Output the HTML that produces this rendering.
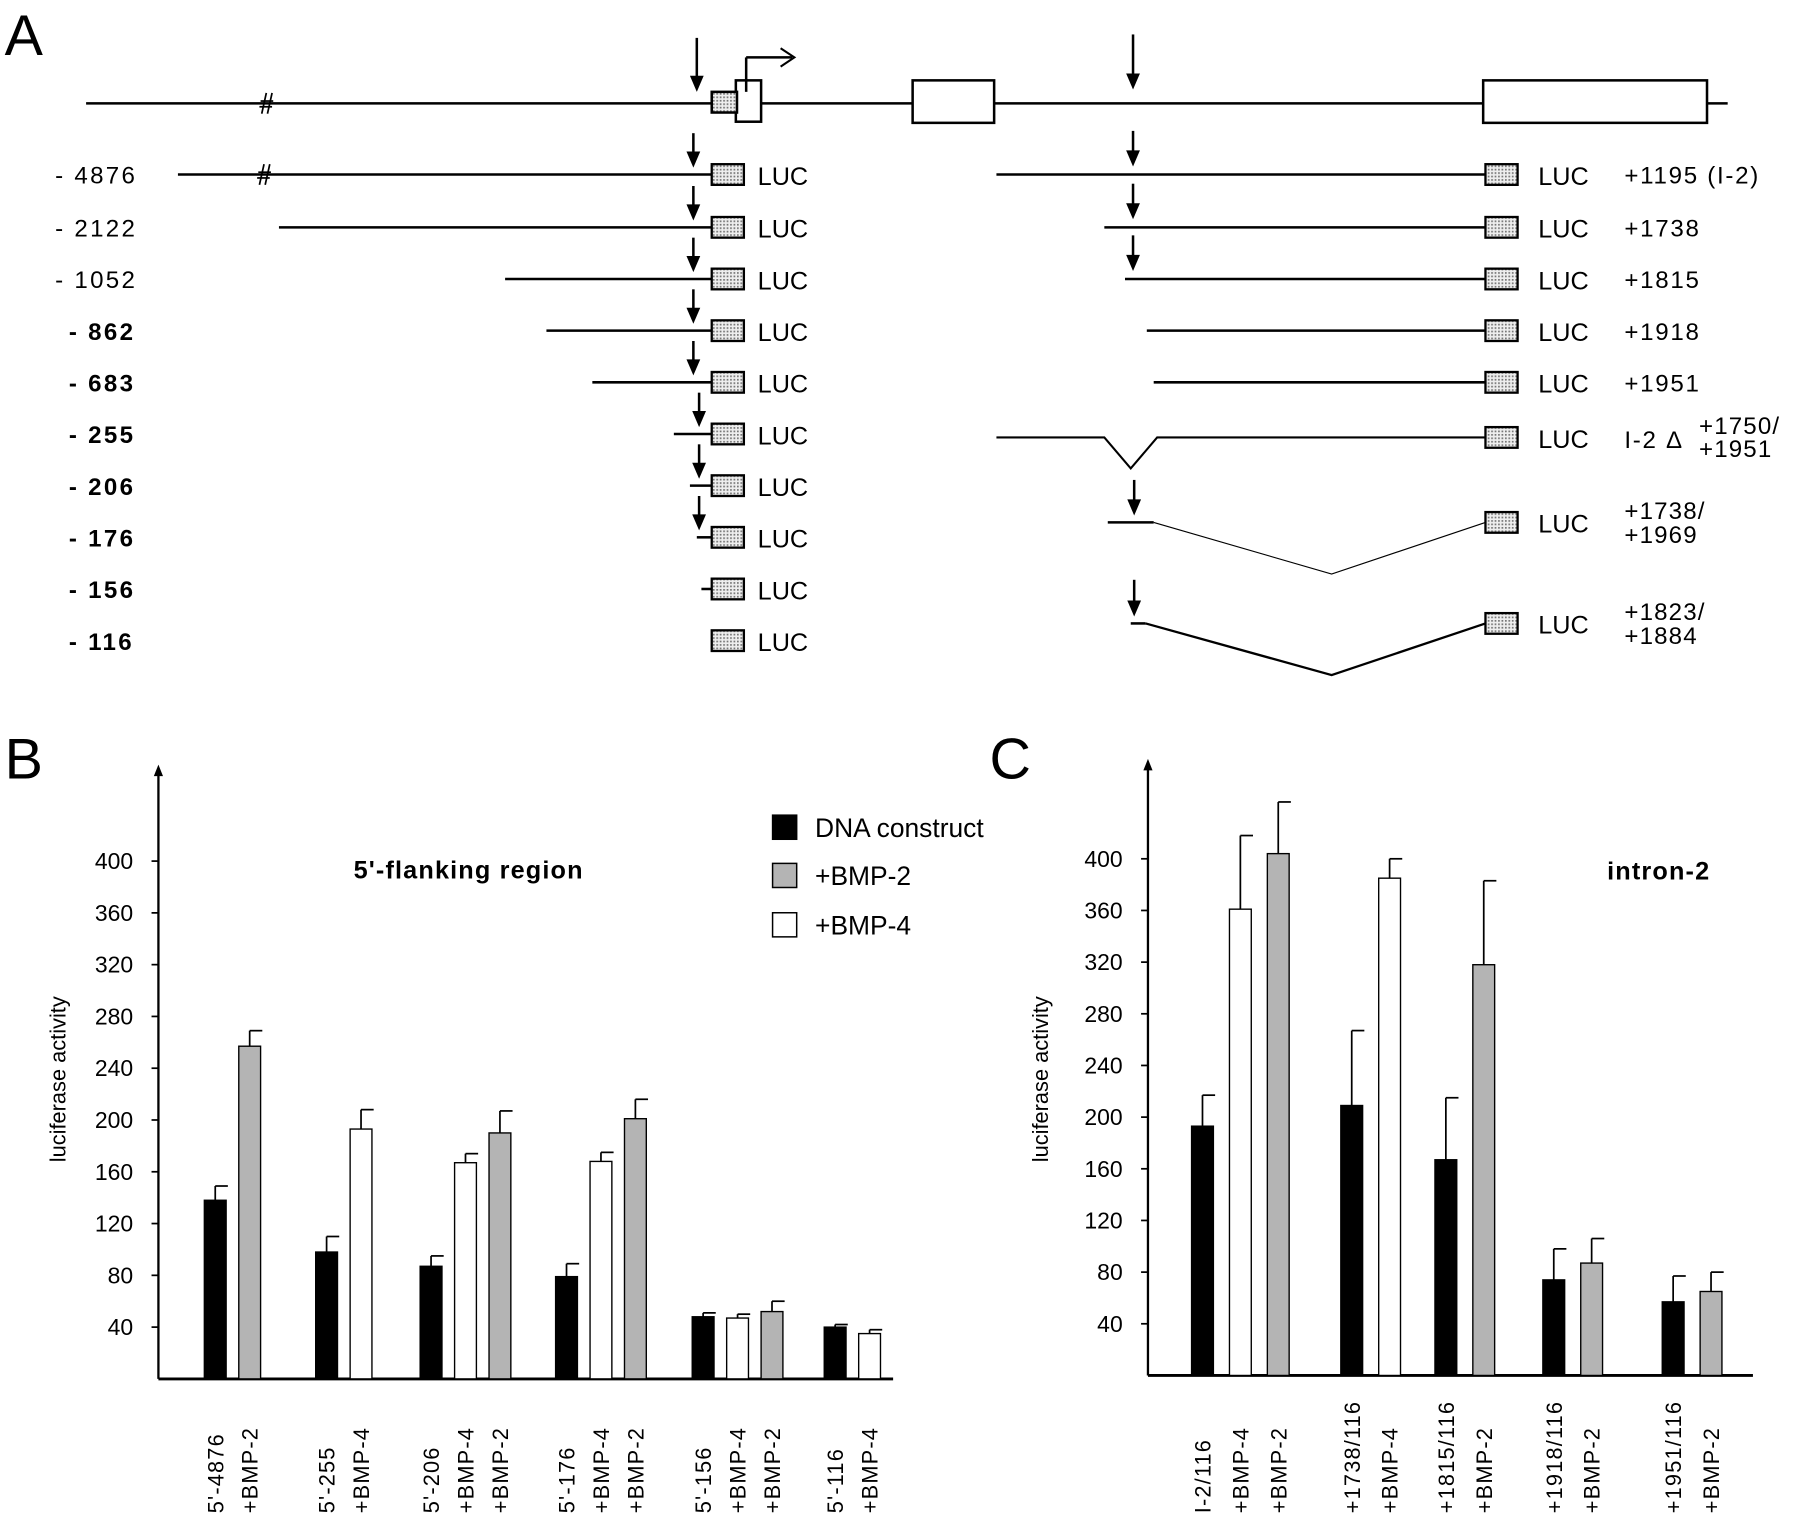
<!DOCTYPE html>
<html><head><meta charset="utf-8"><style>
html,body{margin:0;padding:0;background:#fff}
svg{display:block}
text{font-family:"Liberation Sans",sans-serif;fill:#000}
</style></head><body>
<svg id="fig" width="1800" height="1527" viewBox="0 0 1568 1330" preserveAspectRatio="none" xmlns="http://www.w3.org/2000/svg">
<defs><pattern id="dots" width="3" height="3" patternUnits="userSpaceOnUse"><rect width="3" height="3" fill="#eee"/><rect width="1.5" height="1.5" fill="#777"/></pattern></defs>
<g id="panelA" stroke="#000" stroke-width="2.2" fill="none"></g>
<g id="panelB"></g>
<g id="panelC"></g>
</svg>
<script>
// Panel B data
const bCats = ["5'-4876","5'-255","5'-206","5'-176","5'-156","5'-116"];
const bBlack = [138,98,87,79,48,40];
const bBlackErr = [149,110,95,89,51,42];
const bWhite = [null,193,167,168,47,35];
const bWhiteErr = [null,208,174,175,50,38];
const bGray = [257,null,190,201,52,null];
const bGrayErr = [269,null,207,216,60,null];
// Panel C data
const cCats = ["I-2/116","+1738/116","+1815/116","+1918/116","+1951/116"];
const cBlack = [193,209,167,74,57];
const cBlackErr = [217,267,215,98,77];
const cWhite = [361,385,null,null,null];
const cWhiteErr = [418,400,null,null,null];
const cGray = [404,null,318,87,65];
const cGrayErr = [444,null,383,106,80];
const yTicks = [40,80,120,160,200,240,280,320,360,400];

const NS="http://www.w3.org/2000/svg";
function mk(parent,tag,attrs,txt){const e=document.createElementNS(NS,tag);for(const k in attrs)e.setAttribute(k,attrs[k]);if(txt!==undefined)e.textContent=txt;parent.appendChild(e);return e;}

// ---------- Panel A ----------
const A=document.getElementById('panelA');
const svg=document.getElementById('fig');
let t=mk(svg,'text',{x:4,y:48,'font-size':50,'font-family':'Liberation Sans'},'A');


function line(x1,y1,x2,y2,w){const l=mk(A,'line',{x1,y1,x2,y2});if(w)l.setAttribute('stroke-width',w);return l;}
function arrow(x,y1,y2){line(x,y1,x,y2-10);mk(A,'polygon',{points:`${x-6},${y2-14} ${x+6},${y2-14} ${x},${y2}`,fill:'#000',stroke:'none'});}
function hash(x,y){line(x-3,y+9,x+1,y-9,1.5);line(x+2,y+9,x+6,y-9,1.5);line(x-4,y-2,x+7,y-2,1.5);line(x-5,y+3,x+6,y+3,1.5);}
function lucBox(x,y){const r=mk(A,'rect',{x:x,y:y-9,width:28,height:18,fill:'url(#dots)','stroke-width':2});}
// top gene map
line(75,90,1505,90);hash(231,90);
arrow(607,33,80);
mk(A,'rect',{x:641,y:70,width:22,height:36,fill:'#fff'});
mk(A,'rect',{x:620,y:80,width:22,height:18,fill:'url(#dots)'});
line(650,80,650,50);line(650,50,690,50);
mk(A,'polyline',{points:'680,42 692,50 680,58','stroke-width':1.8});
mk(A,'rect',{x:795,y:70,width:71,height:37,fill:'#fff'});
arrow(987,30,78);
mk(A,'rect',{x:1292,y:70,width:195,height:37,fill:'#fff'});
// rows
const rowY=[152,198,243,288,333,378,423,468,513,558];
const rowLbl=["- 4876","- 2122","- 1052","- 862","- 683","- 255","- 206","- 176","- 156","- 116"];
const leftStart=[155,243,440,476,516,587,601,607,611,null];
const rowArrowL=[1,1,1,1,1,1,1,1,0,0];
rowY.forEach((y,i)=>{
  const tx=mk(svg,'text',{x:i<3?48:60,y:y+8,'font-size':21,'letter-spacing':2,'font-weight':i>=3?'bold':'normal'},rowLbl[i]);
  
  
  if(leftStart[i]!==null)line(leftStart[i],y,620,y);
  if(i===0)hash(229,y);
  if(rowArrowL[i])arrow(i>=5?609:604,y-36,y-6);
  lucBox(620,y);
  mk(svg,'text',{x:660,y:y+9,'font-size':22},'LUC');
});
// right constructs
const rR=[152,198,243,288,333];
const rStart=[868,962,980,999,1005];
const rLbl=["+1195 (I-2)","+1738","+1815","+1918","+1951"];
rR.forEach((y,i)=>{line(rStart[i],y,1294,y);if(i<3)arrow(987,y-38,y-7);lucBox(1294,y);
  mk(svg,'text',{x:1340,y:y+9,'font-size':22},'LUC');
  const tx=mk(svg,'text',{x:1415,y:y+8,'font-size':21,'letter-spacing':1.5},rLbl[i]);
  
  });
mk(A,'polyline',{points:'868,381 962,381 985,408 1008,381 1294,381','stroke-width':1.8});
lucBox(1294,381);mk(svg,'text',{x:1340,y:390,'font-size':22},'LUC');
mk(svg,'text',{x:1415,y:390,'font-size':21,'letter-spacing':1.5},'I-2 Δ');
mk(svg,'text',{x:1480,y:378,'font-size':21,'letter-spacing':1},'+1750/');
mk(svg,'text',{x:1480,y:398,'font-size':21,'letter-spacing':1},'+1951');
line(965,455,1005,455);mk(A,'polyline',{points:'1005,455 1160,500 1294,455','stroke-width':1});
arrow(988,418,449);lucBox(1294,455);mk(svg,'text',{x:1340,y:464,'font-size':22},'LUC');
mk(svg,'text',{x:1415,y:452,'font-size':21,'letter-spacing':1},'+1738/');
mk(svg,'text',{x:1415,y:473,'font-size':21,'letter-spacing':1},'+1969');
line(985,543,998,543);mk(A,'polyline',{points:'998,543 1160,588 1294,543','stroke-width':2});
arrow(988,505,537);lucBox(1294,543);mk(svg,'text',{x:1340,y:552,'font-size':22},'LUC');
mk(svg,'text',{x:1415,y:540,'font-size':21,'letter-spacing':1},'+1823/');
mk(svg,'text',{x:1415,y:561,'font-size':21,'letter-spacing':1},'+1884');

// ---------- Charts ----------
function chart(gid,o){
  const G=document.getElementById(gid);
  const y=v=>o.base-(v/40)*o.step;
  const L=mk(G,'text',{x:o.lx,y:o.ly,'font-size':50},o.letter);
  
  
  mk(G,'line',{x1:o.ax,y1:o.base,x2:o.ax,y2:o.top+8,stroke:'#000','stroke-width':2});
  mk(G,'polygon',{points:`${o.ax-4},${o.top+10} ${o.ax+4},${o.top+10} ${o.ax},${o.top}`,fill:'#000'});
  const xa=mk(G,'line',{x1:o.ax,y1:o.base,x2:o.xend,y2:o.base,stroke:'#000','stroke-width':2.5});
  
  
  yTicks.forEach(v=>{
    mk(G,'line',{x1:o.ax-6,y1:y(v),x2:o.ax,y2:y(v),stroke:'#000','stroke-width':1.5});
    const tt=mk(G,'text',{x:o.ax-22,y:y(v)+7,'font-size':20,'text-anchor':'end'},v);
    
    
  });
  const yt=mk(G,'text',{x:0,y:0,'font-size':19,'text-anchor':'middle',transform:`translate(${o.ytx},${o.yty}) rotate(-90)`},'luciferase activity');
  
  
  const ti=mk(G,'text',{x:o.tx,y:o.ty,'font-size':22,'font-weight':'bold','letter-spacing':1},o.title);
  
  
  const bw=19;
  o.cats.forEach((c,i)=>{
    let x=o.gx[i];
    const series=[[o.black,o.blackErr,'#000','DNA construct',c],...o.order.map(s=>s==='w'?[o.white,o.whiteErr,'#fff','+BMP-4','+BMP-4']:[o.gray,o.grayErr,'#b4b4b4','+BMP-2','+BMP-2'])];
    series.forEach(([vals,errs,col,nm,lbl])=>{
      if(vals[i]===null)return;
      const ex=x+bw/2;
      mk(G,'line',{x1:ex,y1:y(vals[i]),x2:ex,y2:y(errs[i]),stroke:'#000','stroke-width':1.5});
      mk(G,'line',{x1:ex,y1:y(errs[i]),x2:ex+11,y2:y(errs[i]),stroke:'#000','stroke-width':1.5});
      const r=mk(G,'rect',{x:x,y:y(vals[i]),width:bw,height:o.base-y(vals[i]),fill:col,stroke:'#000','stroke-width':1.2});
      
      
      const xl=mk(G,'text',{x:0,y:0,'font-size':19,'letter-spacing':1,transform:`translate(${ex+7},${o.lblY}) rotate(-90)`},lbl);
      
      
      x+=o.gap;
    });
  });
}
chart('panelB',{letter:'B',lx:4,ly:678,ax:138,top:666,base:1201,step:45.1,xend:778,ytx:57,yty:940,
  tx:308,ty:765,title:"5'-flanking region",lblY:1318,cats:bCats,gx:[178,275,366,484,603,718],gap:30,
  black:bBlack,blackErr:bBlackErr,white:bWhite,whiteErr:bWhiteErr,gray:bGray,grayErr:bGrayErr,order:['w','g']});
chart('panelC',{letter:'C',lx:862,ly:678,ax:1000,top:661,base:1198,step:45,xend:1527,ytx:913,yty:940,
  tx:1400,ty:766,title:"intron-2",lblY:1318,cats:cCats,gx:[1038,1168,1250,1344,1448],gap:33,
  black:cBlack,blackErr:cBlackErr,white:cWhite,whiteErr:cWhiteErr,gray:cGray,grayErr:cGrayErr,order:['w','g']});

// legend
const leg=[['#000','DNA construct',710],['#b4b4b4','+BMP-2',752],['#fff','+BMP-4',795]];
leg.forEach(([c,l,yy])=>{
  const r=mk(svg,'rect',{x:673,y:yy,width:21,height:21,fill:c,stroke:'#000','stroke-width':1.3});
  
  
  const tx=mk(svg,'text',{x:710,y:yy+19,'font-size':23},l);
  
  
});
</script>
</body></html>
